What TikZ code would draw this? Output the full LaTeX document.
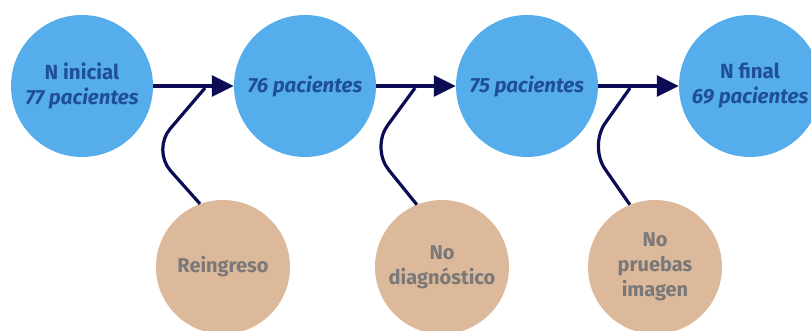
\documentclass[tikz,border=0pt]{standalone}
\usepackage{fontspec}
\setmainfont{Fira Sans}
\usepackage{tikz}
\usetikzlibrary{arrows.meta, positioning}
\definecolor{StepBlue}{HTML}{56ADEC}
\definecolor{LossTan}{HTML}{DDB99B}
\definecolor{FlowNavy}{HTML}{0C0C55}
\definecolor{StepText}{HTML}{1F4F97}
\definecolor{LossText}{HTML}{7A7878}

\begin{document}
\begin{tikzpicture}[x=1pt, y=-1pt, >=Triangle]
  \useasboundingbox (0,0) rectangle (811,331);
  \tikzset{
    stepnode/.style={circle, fill=StepBlue, minimum size=142pt, inner sep=0pt,
      align=center, text=StepText, font=\fontsize{20.5}{25}\selectfont\bfseries},
    lossnode/.style={circle, fill=LossTan, minimum size=134pt, inner sep=0pt,
      align=center, text=LossText, font=\fontsize{20}{25}\selectfont\bfseries},
    flow/.style={FlowNavy, line width=3.2pt, arrows={-Triangle[length=22pt, width=21pt]}},
    drop/.style={FlowNavy, line width=3.2pt, rounded corners=28pt}
  }
  % Main steps
  \node[stepnode] (ini) at (82,86) {N inicial\\\itshape 77 pacientes};
  \node[stepnode] (p76) at (305,86) {\itshape 76 pacientes};
  \node[stepnode] (p75) at (527,86) {\itshape 75 pacientes};
  \node[stepnode] (fin) at (750,86) {N final\\\itshape 69 pacientes};
  % Losses
  \node[lossnode] (reing) at (223,267) {Reingreso};
  \node[lossnode] (nodiag) at (442,267) {No\\diagnóstico};
  \node[lossnode] (noimg) at (655,267) {No\\pruebas\\imagen};
  % Arrows between steps
  \draw[flow] (ini) -- (p76);
  \draw[flow] (p76) -- (p75);
  \draw[flow] (p75) -- (fin);
  % Exits
  \coordinate (j1) at (205,88);
  \coordinate (j2) at (415,88);
  \coordinate (j3) at (630,88);
  \draw[drop] (reing.110) -- (152,150) -- (j1);
  \draw[drop] (nodiag.112) -- (371,148) -- (j2);
  \draw[drop] (noimg.112) -- (589,146) -- (j3);
\end{tikzpicture}
\end{document}
